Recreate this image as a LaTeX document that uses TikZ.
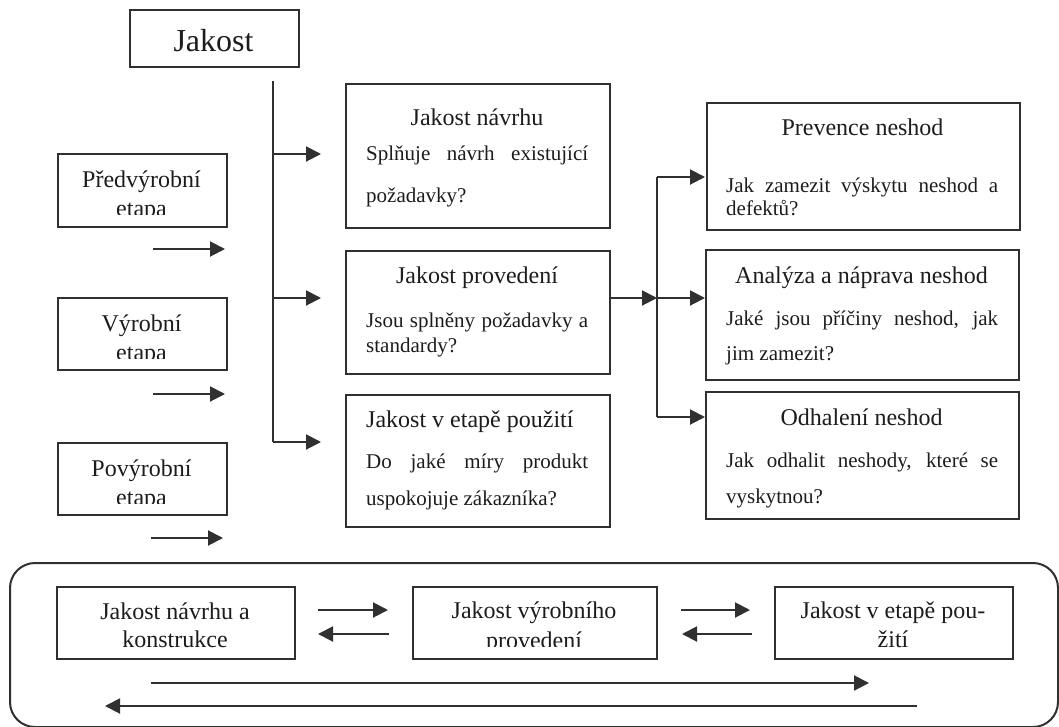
\documentclass[tikz,border=0pt]{standalone}
\usepackage{fontspec}
\setmainfont{Liberation Serif}
\usetikzlibrary{arrows.meta}
\definecolor{ink}{HTML}{303030}
\definecolor{txt}{HTML}{1c1c1c}

% box from top-left (#3,#4) to bottom-right (#5,#6)
\newcommand{\boxnode}[6][]{%
  \node[box,#1,anchor=north west,minimum width={#5-#3},minimum height={#6-#4}] (#2) at (#3,#4) {};}

\begin{document}
\begin{tikzpicture}[x=1pt,y=-1pt,
  box/.style={draw=ink,line width=2pt,inner sep=0pt,fill=none},
  conn/.style={draw=ink,line width=2pt},
  arr/.style={conn,-{Triangle[length=15pt,width=15pt]}},
  big/.style={text=txt,inner sep=0pt,anchor=base,font=\fontsize{32}{36}\selectfont},
  ttl/.style={text=txt,inner sep=0pt,anchor=base,font=\fontsize{24}{26}\selectfont},
  ttlw/.style={ttl,anchor=base west},
  bdy/.style={text=txt,inner sep=0pt,anchor=base west,font=\fontsize{21}{24}\selectfont},
]
\useasboundingbox (0,0) rectangle (1059,726);

% ---- boxes ----
\boxnode{jakost}{129}{9}{298}{66}
\boxnode{pre}{57}{153}{226}{226}
\boxnode{vyr}{57}{297}{226}{369}
\boxnode{pov}{57}{442}{226}{514}
\boxnode{navrh}{345}{83}{609}{227}
\boxnode{prov}{345}{250}{609}{373}
\boxnode{pouz}{345}{394}{609}{526}
\boxnode{prev}{706}{102}{1019}{229}
\boxnode{anal}{705}{249}{1018}{379}
\boxnode{odh}{705}{391}{1018}{518}
\boxnode[rounded corners=25pt]{frame}{9}{562}{1057}{726}
\boxnode{bn}{56}{586}{294}{658}
\boxnode{bv}{412}{586}{656}{658}
\boxnode{bp}{774}{586}{1012}{658}

% ---- texts ----
\node[big] (tJak) at (213.5,51) {Jakost};

\node[ttl] (tPre) at (141.5,187) {Předvýrobní};
\begin{scope}\clip (57,190) rectangle (226,214.5);
\node[ttl] (tPre2) at (141.5,216) {etapa};\end{scope}
\node[ttl] (tVyr) at (141.5,331) {Výrobní};
\begin{scope}\clip (57,335) rectangle (226,358.5);
\node[ttl] (tVyr2) at (141.5,360) {etapa};\end{scope}
\node[ttl] (tPov) at (141.5,476) {Povýrobní};
\begin{scope}\clip (57,480) rectangle (226,503.5);
\node[ttl] (tPov2) at (141.5,505) {etapa};\end{scope}

\node[ttl] (tN) at (477,125) {Jakost návrhu};
\node[bdy] (tN1) at (366,160) {\makebox[222pt][s]{Splňuje návrh existující}};
\node[bdy] (tN2) at (366,202) {požadavky?};
\node[ttl] (tP) at (477,283) {Jakost provedení};
\node[bdy] (tP1) at (366,327) {\makebox[222pt][s]{Jsou splněny požadavky a}};
\node[bdy] (tP2) at (366,352) {standardy?};
\node[ttlw] (tU) at (366,427) {Jakost v etapě použití};
\node[bdy] (tU1) at (366,468) {\makebox[222pt][s]{Do jaké míry produkt}};
\node[bdy] (tU2) at (366,505) {uspokojuje zákazníka?};

\node[ttl] (tR) at (862.5,135) {Prevence neshod};
\node[bdy] (tR1) at (726,192) {\makebox[272pt][s]{Jak zamezit výskytu neshod a}};
\node[bdy] (tR2) at (726,215) {defektů?};
\node[ttl] (tA) at (861.5,283) {Analýza a náprava neshod};
\node[bdy] (tA1) at (726,325) {\makebox[272pt][s]{Jaké jsou příčiny neshod, jak}};
\node[bdy] (tA2) at (726,360) {jim zamezit?};
\node[ttl] (tO) at (861.5,425) {Odhalení neshod};
\node[bdy] (tO1) at (726,467) {\makebox[272pt][s]{Jak odhalit neshody, které se}};
\node[bdy] (tO2) at (726,503) {vyskytnou?};

\node[ttl] (tB1) at (175,619) {Jakost návrhu a};
\node[ttl] (tB1b) at (175,647) {konstrukce};
\node[ttl] (tB2) at (534,618) {Jakost výrobního};
\begin{scope}\clip (412,620) rectangle (656,646.5);
\node[ttl] (tB2b) at (534,648) {provedení};\end{scope}
\node[ttl] (tB3) at (893,618) {Jakost v etapě pou-};
\node[ttl] (tB3b) at (893,647) {žití};

% ---- trunk from the top box ----
\coordinate (trTop) at (273,81);
\coordinate (tr1) at (273,154);
\coordinate (tr2) at (273,298);
\coordinate (tr3) at (273,442);
\draw[conn] (trTop) -- (tr3);
\draw[arr,shorten >=24pt] (tr1) -- (tr1 -| navrh.west);
\draw[arr,shorten >=24pt] (tr2) -- (tr2 -| prov.west);
\draw[arr,shorten >=24pt] (tr3) -- (tr3 -| pouz.west);

% ---- stage arrows on the left ----
\coordinate (a1s) at (153,249); \coordinate (a1e) at (225,249);
\coordinate (a2s) at (153,394); \coordinate (a2e) at (225,394);
\coordinate (a3s) at (151,538); \coordinate (a3e) at (223,538);
\draw[arr] (a1s) -- (a1e);
\draw[arr] (a2s) -- (a2e);
\draw[arr] (a3s) -- (a3e);

% ---- fork to the three nonconformity boxes ----
\coordinate (jTop) at (657,177);
\coordinate (jMid) at (657,298);
\coordinate (jBot) at (657,417);
\draw[arr] (prov.east |- jMid) -- (jMid);
\draw[conn] (jTop) -- (jBot);
\draw[arr,shorten >=1pt] (jTop) -- (jTop -| prev.west);
\draw[arr] (jMid) -- (jMid -| anal.west);
\draw[arr] (jBot) -- (jBot -| odh.west);

% ---- feedback arrows in the bottom frame ----
\coordinate (r1) at (0,610); \coordinate (l1) at (0,634);
\draw[arr,shorten <=22pt,shorten >=24pt] (bn.east |- r1) -- (bv.west |- r1);
\draw[arr,shorten <=23pt,shorten >=22pt] (bv.west |- l1) -- (bn.east |- l1);
\draw[arr,shorten <=23pt,shorten >=24pt] (bv.east |- r1) -- (bp.west |- r1);
\draw[arr,shorten <=22pt,shorten >=24pt] (bp.west |- l1) -- (bv.east |- l1);
\coordinate (lr1) at (151,683); \coordinate (lr2) at (869,683);
\coordinate (ll1) at (917,706); \coordinate (ll2) at (105,706);
\draw[arr] (lr1) -- (lr2);
\draw[arr] (ll1) -- (ll2);
\end{tikzpicture}
\end{document}
